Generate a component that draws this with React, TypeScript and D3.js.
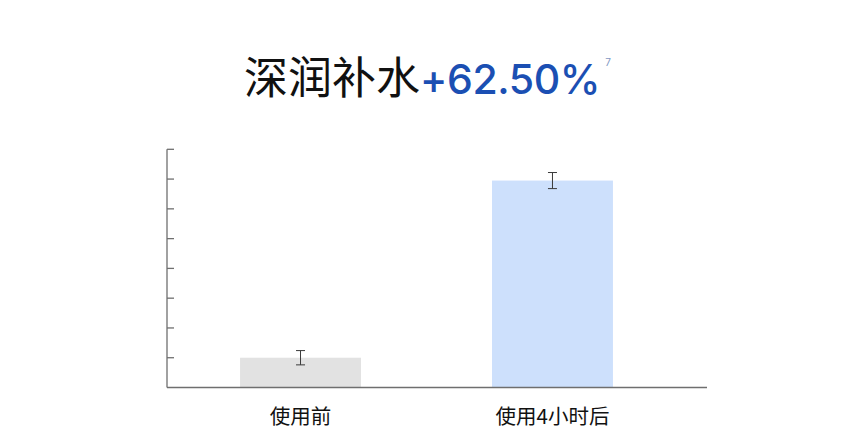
import { useMemo } from "react";
import * as d3 from "d3";

// hydration bar chart: before vs 4h after
const categories = ["使用前", "使用4小时后"];
const values = [1.0, 6.95];
const errors = [0.24, 0.27];
const yTicks = [1, 2, 3, 4, 5, 6, 7, 8];

const titleMain = "深润补水";
const titleGain = "+62.50%";
const titleNote = "7";

export default function App() {
    const W = 850;
    const H = 443;
    const axisX = 167;
    const axisRight = 707;

    const x = useMemo(() => d3.scaleBand<string>().domain(categories).range([167, 686]).paddingInner(0.52).paddingOuter(0.29), []);
    const y = useMemo(() => d3.scaleLinear().domain([0, 8]).range([387.5, 149.3]), []);

    const bw = x.bandwidth();
    const barFill = ["#e2e2e2", "#cde0fc"];

    return (
        <svg width={W} height={H} viewBox={`0 0 ${W} ${H}`} style={{ position: "absolute", left: 0, top: 0, background: "#fff" }}>
            {/* title */}
            <text x={244} y={94} fontFamily="'Noto Sans CJK SC', 'Noto Sans', sans-serif" fontSize={44}>
                <tspan fill="#111">{titleMain}</tspan>
                <tspan fill="#1b4fb3" fontFamily="Inter, 'Noto Sans', sans-serif" fontWeight={500} fontSize={41} letterSpacing={-0.4}>{titleGain}</tspan>
                <tspan fill="#7f97c2" fontFamily="Inter, 'Noto Sans', sans-serif" fontSize={10} dx={5} dy={-28}>{titleNote}</tspan>
            </text>

            {/* bars */}
            {categories.map((c, i) => (
                <rect key={c} x={x(c)} y={y(values[i])} width={bw} height={y(0) - y(values[i])} fill={barFill[i]} />
            ))}

            {/* error bars */}
            {categories.map((c, i) => {
                const cx = (x(c) ?? 0) + bw / 2;
                const top = y(values[i] + errors[i]);
                const bot = y(values[i] - errors[i]);
                return (
                    <g key={c} stroke="#3a3a3a" strokeWidth={1}>
                        <line x1={cx} x2={cx} y1={top} y2={bot} />
                        <line x1={cx - 4.5} x2={cx + 4.5} y1={top} y2={top} />
                        <line x1={cx - 4.5} x2={cx + 4.5} y1={bot} y2={bot} />
                    </g>
                );
            })}

            {/* y axis */}
            <line x1={axisX} x2={axisX} y1={y(8)} y2={y(0)} stroke="#6f6f6f" strokeWidth={1.3} />
            {yTicks.map(t => (
                <line key={t} x1={axisX} x2={axisX + 7} y1={y(t)} y2={y(t)} stroke="#6f6f6f" strokeWidth={1.3} />
            ))}

            {/* x axis */}
            <line x1={axisX} x2={axisRight} y1={y(0)} y2={y(0)} stroke="#6f6f6f" strokeWidth={1.3} />
            {categories.map(c => (
                <text key={c} x={(x(c) ?? 0) + bw / 2} y={423.5} textAnchor="middle"
                    fontFamily="'Noto Sans CJK SC', 'Noto Sans', sans-serif" fontSize={20.5} fill="#111">
                    {c}
                </text>
            ))}
        </svg>
    );
}
